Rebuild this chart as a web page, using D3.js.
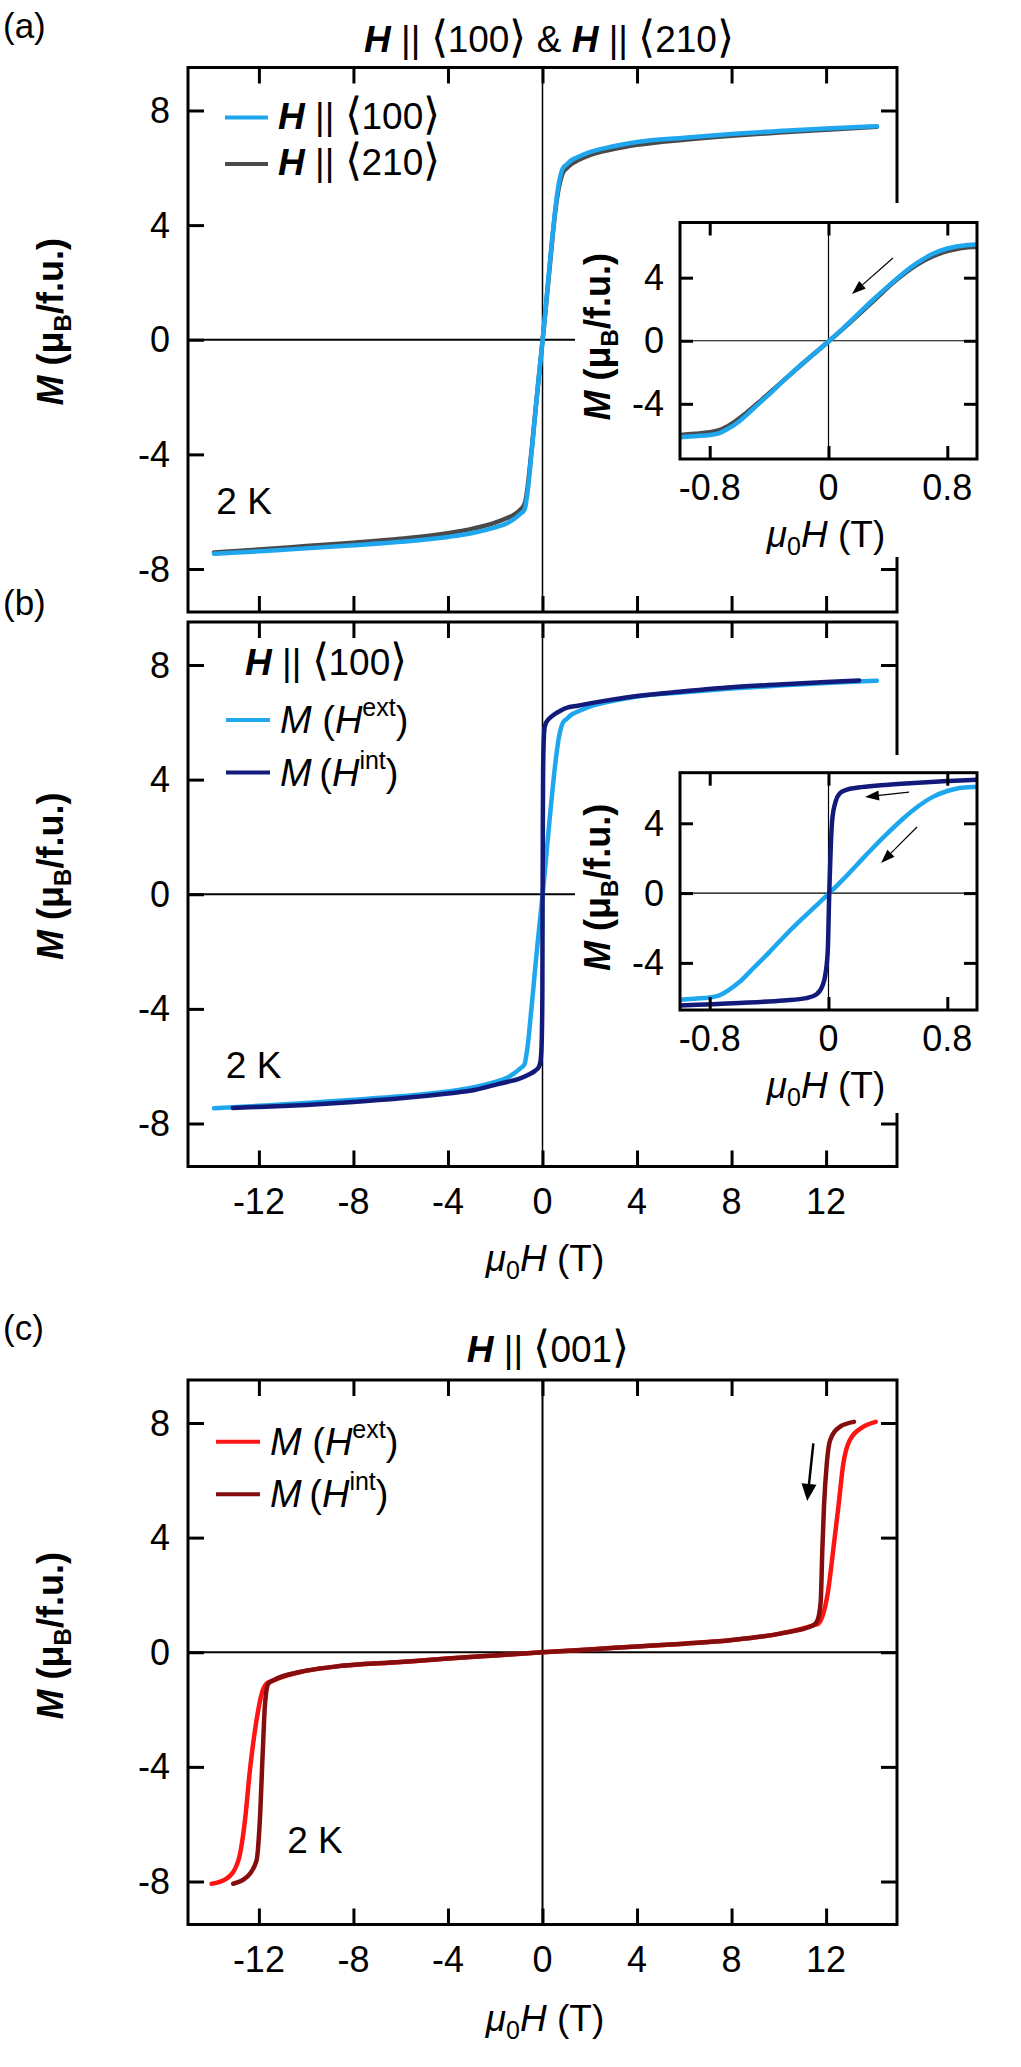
<!DOCTYPE html>
<html lang="en">
<head>
<meta charset="UTF-8">
<title>M(H) loops</title>
<script src="https://cdn.jsdelivr.net/npm/d3@7"></script>
<style>
  body { margin:0; background:#fff; }
  svg { display:block; font-family: Arial, "Liberation Sans", sans-serif; }
</style>
</head>
<body>
<div id="chart"></div>
<script>
// values: field in T, magnetisation in muB/f.u.

// (a) H || <100>  (same sweep is M(H ext) in panel b)
var h100 = [-13.9, -12, -10, -8, -6, -4, -3, -2, -1.5, -1.2, -1.0, -0.9, -0.8, -0.74, -0.68, -0.6, -0.5, -0.4, -0.3, -0.2,
            -0.1, 0, 0.1, 0.2, 0.3, 0.4, 0.5, 0.6, 0.7, 0.8, 0.86, 0.92, 1.0, 1.2, 1.5, 2, 3, 4, 6, 8, 10, 12, 14.15];
var m100 = [-7.47, -7.38, -7.28, -7.17, -7.05, -6.88, -6.75, -6.55, -6.4, -6.25, -6.12, -6.05, -5.98, -5.88, -5.6, -5.1, -4.25, -3.4, -2.5, -1.65,
            -0.85, -0.05, 0.8, 1.7, 2.6, 3.45, 4.25, 4.95, 5.5, 5.85, 5.98, 6.05, 6.1, 6.25, 6.38, 6.55, 6.75, 6.9, 7.05, 7.18, 7.28, 7.37, 7.45];

// (a) H || <210>
var h210 = [-13.9, -12, -10, -8, -6, -4, -3, -2, -1.5, -1.2, -1.0, -0.9, -0.8, -0.72, -0.64, -0.55, -0.45, -0.3, -0.15, 0,
            0.15, 0.3, 0.45, 0.6, 0.7, 0.8, 0.88, 1.0, 1.2, 1.5, 2, 3, 4, 6, 8, 10, 12, 14.15];
var m210 = [-7.42, -7.32, -7.2, -7.08, -6.94, -6.75, -6.6, -6.38, -6.22, -6.1, -5.98, -5.9, -5.8, -5.62, -5.2, -4.55, -3.75, -2.5, -1.25, -0.05,
            1.2, 2.5, 3.8, 4.85, 5.35, 5.68, 5.85, 5.97, 6.12, 6.26, 6.44, 6.65, 6.8, 6.98, 7.12, 7.23, 7.33, 7.43];

// (b) H || <100>, M(H int)
var hInt100 = [-13.1, -12, -10, -8, -6, -4, -3, -2, -1.5, -1.0, -0.6, -0.3, -0.15, -0.08, -0.04, -0.02, -0.005, 0.005, 0.015, 0.025,
               0.05, 0.08, 0.12, 0.2, 0.35, 0.55, 0.8, 1.0, 1.5, 2, 3, 4, 6, 8, 10, 12, 13.4];
var mInt100 = [-7.46, -7.42, -7.35, -7.25, -7.12, -6.95, -6.85, -6.65, -6.55, -6.44, -6.3, -6.15, -6.02, -5.8, -5.3, -4.6, -3.3, 0, 2.6, 4.2,
               5.3, 5.75, 5.92, 6.05, 6.18, 6.3, 6.42, 6.5, 6.58, 6.66, 6.8, 6.92, 7.08, 7.22, 7.32, 7.41, 7.46];

// (c) H || <001>, M(H ext)
var hExt001 = [-14.0, -13.37, -12.87, -12.59, -12.38, -12.1, -11.88, -11.67, -11.39, -10.26, -8.85, -6, -4, -2, 0,
               2, 4, 6, 7.93, 10.05, 11.46, 11.67, 11.88, 12.09, 12.3, 12.52, 12.73, 13.0, 13.58, 14.1];
var mExt001 = [-8.08, -7.9, -7.27, -5.87, -4.12, -2.37, -1.44, -1.09, -0.98, -0.69, -0.51, -0.34, -0.22, -0.11, 0,
               0.1, 0.2, 0.3, 0.42, 0.65, 0.94, 1.0, 1.35, 2.17, 3.56, 5.08, 6.59, 7.4, 7.87, 8.04];

// (c) H || <001>, M(H int)
var hInt001 = [-13.09, -12.52, -12.1, -11.96, -11.84, -11.74, -11.6, -11.39, -10.26, -8.85, -6, -4, -2, 0,
               2, 4, 6, 7.93, 10.05, 11.46, 11.63, 11.77, 11.84, 11.91, 12.03, 12.17, 12.59, 13.18];
var mInt001 = [-8.08, -7.85, -7.27, -5.87, -3.54, -1.79, -1.09, -0.98, -0.69, -0.51, -0.34, -0.22, -0.11, 0,
               0.1, 0.2, 0.3, 0.42, 0.65, 0.94, 1.1, 1.75, 3.56, 5.08, 6.59, 7.4, 7.87, 8.04];

// ticks
var xTicks = [-12, -8, -4, 0, 4, 8, 12];
var xTickLabels = ["-12", "-8", "-4", "0", "4", "8", "12"];
var yTicks = [-8, -4, 0, 4, 8];
var yTickLabels = ["-8", "-4", "0", "4", "8"];
var insetXTicks = [-0.8, 0, 0.8];
var insetXTickLabels = ["-0.8", "0", "0.8"];
var insetYTicks = [-4, 0, 4];
var insetYTickLabels = ["-4", "0", "4"];

// colours
var cBlue = "#1ea6ee", cGrey = "#4a4a4a", cNavy = "#121a7c", cRed = "#ff1414", cDark = "#860d0d";

var W = 1021, H = 2067;
var svg = d3.select("#chart").append("svg").attr("width", W).attr("height", H);

var plotL = 188, plotR = 897, plotH = 544.5;
var tickLen = 16;
var zip = function(hs, ms) { return hs.map(function(h, i) { return [h, ms[i]]; }); };

function drawArrow(g, x1, y1, x2, y2, lw, hl, hw) {
  var a = Math.atan2(y2 - y1, x2 - x1);
  var bx = x2 - hl * Math.cos(a), by = y2 - hl * Math.sin(a);
  g.append("line").attr("x1", x1).attr("y1", y1).attr("x2", bx).attr("y2", by)
    .attr("stroke", "#000").attr("stroke-width", lw);
  var px = Math.sin(a) * hw / 2, py = -Math.cos(a) * hw / 2;
  g.append("path").attr("d", "M" + x2 + "," + y2 + "L" + (bx + px) + "," + (by + py) + "L" + (bx - px) + "," + (by - py) + "Z")
    .attr("fill", "#000");
}

function ticks(g, x, y, xt, yt, len, x0, x1, y0, y1) {
  var sets = [
    [d3.axisBottom(x).tickValues(xt), "translate(0," + y0 + ")"],
    [d3.axisTop(x).tickValues(xt), "translate(0," + y1 + ")"],
    [d3.axisLeft(y).tickValues(yt), "translate(" + x0 + ",0)"],
    [d3.axisRight(y).tickValues(yt), "translate(" + x1 + ",0)"]
  ];
  sets.forEach(function(s) {
    var ax = g.append("g").attr("transform", s[1])
      .call(s[0].tickSize(-len).tickSizeOuter(0).tickFormat(""));
    ax.select(".domain").remove();
    ax.selectAll("line").attr("stroke", "#000").attr("stroke-width", 3);
  });
}

// y label "M (muB/f.u.)"
function yLabel(g, xb, cy) {
  var t = g.append("text").attr("transform", "translate(" + xb + "," + cy + ") rotate(-90)")
    .attr("text-anchor", "middle").attr("font-size", 36).attr("font-weight", "bold");
  t.append("tspan").attr("font-style", "italic").text("M");
  t.append("tspan").text(" (\u03bc");
  t.append("tspan").attr("font-size", 24).attr("dy", 8).text("B");
  t.append("tspan").attr("dy", -8).text("/f.u.)");
}

// x label "mu0 H (T)"
function xLabel(g, cx, yb) {
  var t = g.append("text").attr("x", cx).attr("y", yb).attr("text-anchor", "middle").attr("font-size", 37);
  t.append("tspan").attr("font-style", "italic").text("\u03bc");
  t.append("tspan").attr("font-size", 25).attr("dy", 8).text("0");
  t.append("tspan").attr("font-style", "italic").attr("dy", -8).text("H");
  t.append("tspan").text(" (T)");
}

// "H || <hkl>" with tall angle brackets
function hLabel(t, hkl) {
  t.append("tspan").attr("font-weight", "bold").attr("font-style", "italic").text("H");
  t.append("tspan").text(" || ");
  t.append("tspan").attr("font-size", 44).text("\u27e8");
  t.append("tspan").text(hkl);
  t.append("tspan").attr("font-size", 44).text("\u27e9");
}

function mLegendText(t, sup, gap) {
  t.append("tspan").attr("font-style", "italic").text("M");
  t.append("tspan").text(gap + "(");
  t.append("tspan").attr("font-style", "italic").text("H");
  t.append("tspan").attr("font-size", 25).attr("dy", -17).text(sup);
  t.append("tspan").attr("dy", 17).text(")");
}

var panels = [
  { id: "a", top: 67.5, letterY: 38, xLabels: false, fullZero: false,
    series: [ { h: h210, m: m210, c: cGrey }, { h: h100, m: m100, c: cBlue } ],
    mask: [203, 557],
    inset: { top: 222.5, bottom: 459, yDom: [-7.5, 7.5],
             series: [ { h: h210, m: m210, c: cGrey }, { h: h100, m: m100, c: cBlue } ],
             arrows: [ [0.434, 5.25, 0.158, 2.96] ] },
    twoK: [-13.8, -6.09], yLabelOff: -18 },
  { id: "b", top: 622, letterY: 615, xLabels: true, fullZero: false,
    series: [ { h: h100, m: m100, c: cBlue }, { h: hInt100, m: mInt100, c: cNavy } ],
    mask: [755, 1113],
    inset: { top: 772.7, bottom: 1010, yDom: [-6.7, 6.9],
             series: [ { h: h100, m: m100, c: cBlue }, { h: hInt100, m: mInt100, c: cNavy } ],
             arrows: [ [0.542, 5.79, 0.246, 5.51], [0.596, 3.79, 0.354, 1.72] ] },
    twoK: [-13.4, -6.41], yLabelOff: -18 },
  { id: "c", top: 1380, letterY: 1340, xLabels: true, fullZero: true,
    series: [ { h: hExt001, m: mExt001, c: cRed }, { h: hInt001, m: mInt001, c: cDark } ],
    mask: null, inset: null,
    twoK: [-10.8, -7.0], yLabelOff: -16.5 }
];

panels.forEach(function(p) {
  var g = svg.append("g");
  var y0 = p.top, y1 = p.top + plotH;
  var x = d3.scaleLinear().domain([-15, 15]).range([plotL, plotR]);
  var y = d3.scaleLinear().domain([-9.5, 9.5]).range([y1, y0]);

  // zero lines
  g.append("line").attr("x1", plotL).attr("x2", p.fullZero ? plotR : 575)
    .attr("y1", y(0)).attr("y2", y(0)).attr("stroke", "#000").attr("stroke-width", 2);
  g.append("line").attr("x1", x(0)).attr("x2", x(0)).attr("y1", y0).attr("y2", y1)
    .attr("stroke", "#000").attr("stroke-width", p.fullZero ? 2 : 1.5);

  var line = d3.line().x(function(d) { return x(d[0]); }).y(function(d) { return y(d[1]); })
    .curve(d3.curveMonotoneX);
  p.series.forEach(function(s) {
    g.append("path").datum(zip(s.h, s.m)).attr("d", line)
      .attr("fill", "none").attr("stroke", s.c).attr("stroke-width", 4.5)
      .attr("stroke-linecap", "round").attr("stroke-linejoin", "round");
  });

  ticks(g, x, y, xTicks, yTicks, tickLen, plotL, plotR, y1, y0);
  g.append("rect").attr("x", plotL).attr("y", y0).attr("width", plotR - plotL).attr("height", plotH)
    .attr("fill", "none").attr("stroke", "#000").attr("stroke-width", 3);

  // y tick labels
  g.selectAll(".ytl").data(yTicks).enter().append("text")
    .attr("x", 170).attr("y", function(d) { return y(d); }).attr("dy", "0.35em")
    .attr("text-anchor", "end").attr("font-size", 36)
    .text(function(d, i) { return yTickLabels[i]; });

  if (p.xLabels) {
    g.selectAll(".xtl").data(xTicks).enter().append("text")
      .attr("x", function(d) { return x(d); }).attr("y", y1 + 47)
      .attr("text-anchor", "middle").attr("font-size", 36)
      .text(function(d, i) { return xTickLabels[i]; });
    xLabel(g, 545, y1 + (p.id === "b" ? 104 : 106));
  }

  yLabel(g, 63, (y0 + y1) / 2 + p.yLabelOff);

  // panel letter
  g.append("text").attr("x", 3).attr("y", p.letterY).attr("font-size", 35).text("(" + p.id + ")");

  // 2 K
  g.append("text").attr("x", x(p.twoK[0])).attr("y", y(p.twoK[1])).attr("font-size", 37).text("2 K");

  // white box behind the inset
  if (p.mask) {
    g.append("rect").attr("x", 575).attr("y", p.mask[0]).attr("width", W - 575)
      .attr("height", p.mask[1] - p.mask[0]).attr("fill", "#fff");
  }

  if (p.inset) {
    var q = p.inset;
    var ix = d3.scaleLinear().domain([-1, 1]).range([680, 977]);
    var iy = d3.scaleLinear().domain(q.yDom).range([q.bottom, q.top]);
    var clipId = "clip" + p.id;
    g.append("clipPath").attr("id", clipId).append("rect")
      .attr("x", 680).attr("y", q.top).attr("width", 297).attr("height", q.bottom - q.top);
    g.append("line").attr("x1", 680).attr("x2", 977).attr("y1", iy(0)).attr("y2", iy(0))
      .attr("stroke", "#000").attr("stroke-width", 1.2);
    g.append("line").attr("x1", ix(0)).attr("x2", ix(0)).attr("y1", q.top).attr("y2", q.bottom)
      .attr("stroke", "#000").attr("stroke-width", 1.2);
    var iline = d3.line().x(function(d) { return ix(d[0]); }).y(function(d) { return iy(d[1]); })
      .curve(d3.curveMonotoneX);
    var cg = g.append("g").attr("clip-path", "url(#" + clipId + ")");
    q.series.forEach(function(s) {
      cg.append("path").datum(zip(s.h, s.m)).attr("d", iline)
        .attr("fill", "none").attr("stroke", s.c).attr("stroke-width", 4.5)
        .attr("stroke-linejoin", "round");
    });
    ticks(g, ix, iy, insetXTicks, insetYTicks, 13, 680, 977, q.bottom, q.top);
    g.append("rect").attr("x", 680).attr("y", q.top).attr("width", 297).attr("height", q.bottom - q.top)
      .attr("fill", "none").attr("stroke", "#000").attr("stroke-width", 3);
    g.selectAll(".iyt").data(insetYTicks).enter().append("text")
      .attr("x", 664).attr("y", function(d) { return iy(d); }).attr("dy", "0.35em")
      .attr("text-anchor", "end").attr("font-size", 36)
      .text(function(d, i) { return insetYTickLabels[i]; });
    g.selectAll(".ixt").data(insetXTicks).enter().append("text")
      .attr("x", function(d) { return ix(d); }).attr("y", q.bottom + 41)
      .attr("text-anchor", "middle").attr("font-size", 36)
      .text(function(d, i) { return insetXTickLabels[i]; });
    xLabel(g, 826, q.bottom + 88);
    yLabel(g, 610, (q.top + q.bottom) / 2 - 4);
    q.arrows.forEach(function(a) {
      drawArrow(g, ix(a[0]), iy(a[1]), ix(a[2]), iy(a[3]), 1.2, 14, 10);
    });
  }

  // legends and titles
  if (p.id === "a") {
    var ta = svg.append("text").attr("x", 549).attr("y", 52).attr("text-anchor", "middle").attr("font-size", 37);
    hLabel(ta, "100");
    ta.append("tspan").text(" & ");
    hLabel(ta, "210");
    [["100", cBlue], ["210", cGrey]].forEach(function(r, i) {
      var ly = y0 + 50 + i * 46.5;
      g.append("line").attr("x1", 225).attr("x2", 268).attr("y1", ly).attr("y2", ly)
        .attr("stroke", r[1]).attr("stroke-width", 4);
      var t = g.append("text").attr("x", 278).attr("y", ly + 11).attr("font-size", 37);
      hLabel(t, r[0]);
    });
  } else {
    var cols = p.id === "b" ? [cBlue, cNavy] : [cRed, cDark];
    var lx = p.id === "b" ? 226 : 216;
    var base = p.id === "b" ? y0 + 98 : y0 + 61.7;
    if (p.id === "b") {
      var tb = g.append("text").attr("x", 245).attr("y", y0 + 53).attr("font-size", 37);
      hLabel(tb, "100");
    } else {
      var tc = svg.append("text").attr("x", 548).attr("y", 1362).attr("text-anchor", "middle").attr("font-size", 37);
      hLabel(tc, "001");
      drawArrow(g, x(11.46), y(7.29), x(11.2), y(5.28), 2.5, 17, 15);
    }
    [["ext", " "], ["int", ""]].forEach(function(r, i) {
      var ly = base + i * 52.5;
      g.append("line").attr("x1", lx).attr("x2", lx + 44).attr("y1", ly).attr("y2", ly)
        .attr("stroke", cols[i]).attr("stroke-width", 4);
      var t = g.append("text").attr("x", lx + 54).attr("y", ly + 13).attr("font-size", 38);
      mLegendText(t, r[0], r[1] === " " ? " " : "\u2009");
    });
  }
});
</script>
</body>
</html>
